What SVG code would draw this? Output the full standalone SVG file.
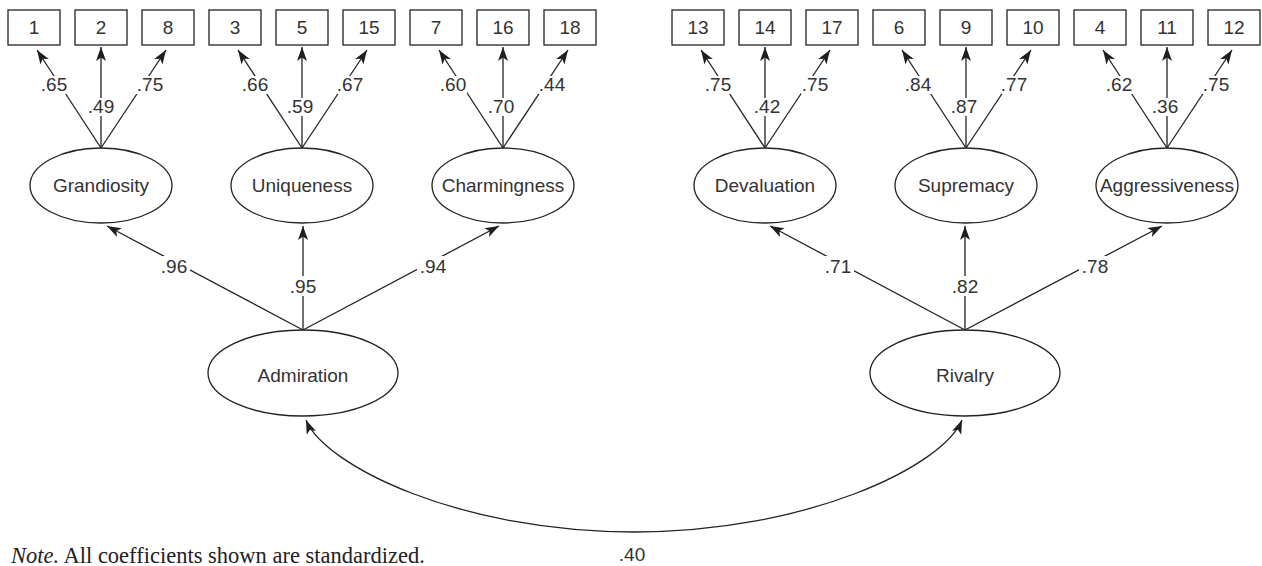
<svg xmlns="http://www.w3.org/2000/svg" width="1262" height="566" viewBox="0 0 1262 566">
<defs>
<marker id="ah" markerUnits="userSpaceOnUse" markerWidth="15" markerHeight="11" refX="14" refY="5" orient="auto-start-reverse" viewBox="0 0 15 11">
<path d="M0,0 L14,5 L0,10 L3.5,5 z" fill="#1e1e1e"/>
</marker>
<style>
.box{fill:#fff;stroke:#222;stroke-width:1.3}
.ell{fill:#fff;stroke:#222;stroke-width:1.3}
.t{font-family:"Liberation Sans",Arial,sans-serif;font-size:19px;fill:#333;text-anchor:middle}
.c{stroke:#222;stroke-width:1.3;fill:none;marker-end:url(#ah)}
.bg{fill:#fff}
</style>
</defs>
<rect width="1262" height="566" fill="#fff"/>

<g id="connectors">
<line class="c" x1="101" y1="148" x2="37" y2="50"/>
<line class="c" x1="101" y1="148" x2="101" y2="47"/>
<line class="c" x1="101" y1="148" x2="166" y2="50"/>
<line class="c" x1="302" y1="148" x2="238" y2="50"/>
<line class="c" x1="302" y1="148" x2="302" y2="47"/>
<line class="c" x1="302" y1="148" x2="367" y2="50"/>
<line class="c" x1="503" y1="148" x2="439" y2="50"/>
<line class="c" x1="503" y1="148" x2="503" y2="47"/>
<line class="c" x1="503" y1="148" x2="568" y2="50"/>
<line class="c" x1="765" y1="148" x2="701" y2="50"/>
<line class="c" x1="765" y1="148" x2="765" y2="47"/>
<line class="c" x1="765" y1="148" x2="830" y2="50"/>
<line class="c" x1="966" y1="148" x2="902" y2="50"/>
<line class="c" x1="966" y1="148" x2="966" y2="47"/>
<line class="c" x1="966" y1="148" x2="1031" y2="50"/>
<line class="c" x1="1167" y1="148" x2="1103" y2="50"/>
<line class="c" x1="1167" y1="148" x2="1167" y2="47"/>
<line class="c" x1="1167" y1="148" x2="1232" y2="50"/>
<line class="c" x1="303" y1="330" x2="107" y2="226"/>
<line class="c" x1="303" y1="330" x2="303" y2="226"/>
<line class="c" x1="303" y1="330" x2="499" y2="226"/>
<line class="c" x1="965" y1="330" x2="770" y2="226"/>
<line class="c" x1="965" y1="330" x2="965" y2="226"/>
<line class="c" x1="965" y1="330" x2="1162" y2="226"/>
<path class="c" style="marker-start:url(#ah)" d="M306,420 C325,466 460,532 634,532 C808,532 943,466 962,420"/>

<g id="loading-labels">
<rect class="bg" x="40" y="76" width="28" height="18"/><text class="t" x="54" y="91">.65</text>
<rect class="bg" x="87" y="98" width="28" height="18"/><text class="t" x="101" y="113">.49</text>
<rect class="bg" x="136" y="76" width="28" height="18"/><text class="t" x="150" y="91">.75</text>
<rect class="bg" x="241" y="76" width="28" height="18"/><text class="t" x="255" y="91">.66</text>
<rect class="bg" x="286" y="98" width="28" height="18"/><text class="t" x="300" y="113">.59</text>
<rect class="bg" x="336" y="76" width="28" height="18"/><text class="t" x="350" y="91">.67</text>
<rect class="bg" x="439" y="76" width="28" height="18"/><text class="t" x="453" y="91">.60</text>
<rect class="bg" x="487" y="98" width="28" height="18"/><text class="t" x="501" y="113">.70</text>
<rect class="bg" x="538" y="76" width="28" height="18"/><text class="t" x="552" y="91">.44</text>
<rect class="bg" x="704" y="76" width="28" height="18"/><text class="t" x="718" y="91">.75</text>
<rect class="bg" x="753" y="98" width="28" height="18"/><text class="t" x="767" y="113">.42</text>
<rect class="bg" x="801" y="76" width="28" height="18"/><text class="t" x="815" y="91">.75</text>
<rect class="bg" x="904" y="76" width="28" height="18"/><text class="t" x="918" y="91">.84</text>
<rect class="bg" x="950" y="98" width="28" height="18"/><text class="t" x="964" y="113">.87</text>
<rect class="bg" x="1000" y="76" width="28" height="18"/><text class="t" x="1014" y="91">.77</text>
<rect class="bg" x="1105" y="76" width="28" height="18"/><text class="t" x="1119" y="91">.62</text>
<rect class="bg" x="1151" y="98" width="28" height="18"/><text class="t" x="1165" y="113">.36</text>
<rect class="bg" x="1202" y="76" width="28" height="18"/><text class="t" x="1216" y="91">.75</text>
<rect class="bg" x="158" y="256" width="32" height="20"/><text class="t" x="174" y="273">.96</text>
<rect class="bg" x="287" y="276" width="32" height="20"/><text class="t" x="303" y="293">.95</text>
<rect class="bg" x="417" y="256" width="32" height="20"/><text class="t" x="433" y="273">.94</text>
<rect class="bg" x="822" y="256" width="32" height="20"/><text class="t" x="838" y="273">.71</text>
<rect class="bg" x="949" y="276" width="32" height="20"/><text class="t" x="965" y="293">.82</text>
<rect class="bg" x="1079" y="256" width="32" height="20"/><text class="t" x="1095" y="273">.78</text>
<text class="t" x="632" y="561">.40</text>
</g>
</g>

<g id="item-1"><rect class="box" x="8" y="10" width="52" height="35"/><text class="t" x="34" y="34">1</text></g>
<g id="item-2"><rect class="box" x="75" y="10" width="52" height="35"/><text class="t" x="101" y="34">2</text></g>
<g id="item-8"><rect class="box" x="142" y="10" width="52" height="35"/><text class="t" x="168" y="34">8</text></g>
<g id="item-3"><rect class="box" x="209" y="10" width="52" height="35"/><text class="t" x="235" y="34">3</text></g>
<g id="item-5"><rect class="box" x="276" y="10" width="52" height="35"/><text class="t" x="302" y="34">5</text></g>
<g id="item-15"><rect class="box" x="343" y="10" width="52" height="35"/><text class="t" x="369" y="34">15</text></g>
<g id="item-7"><rect class="box" x="410" y="10" width="52" height="35"/><text class="t" x="436" y="34">7</text></g>
<g id="item-16"><rect class="box" x="477" y="10" width="52" height="35"/><text class="t" x="503" y="34">16</text></g>
<g id="item-18"><rect class="box" x="544" y="10" width="52" height="35"/><text class="t" x="570" y="34">18</text></g>
<g id="item-13"><rect class="box" x="672" y="10" width="52" height="35"/><text class="t" x="698" y="34">13</text></g>
<g id="item-14"><rect class="box" x="739" y="10" width="52" height="35"/><text class="t" x="765" y="34">14</text></g>
<g id="item-17"><rect class="box" x="806" y="10" width="52" height="35"/><text class="t" x="832" y="34">17</text></g>
<g id="item-6"><rect class="box" x="873" y="10" width="52" height="35"/><text class="t" x="899" y="34">6</text></g>
<g id="item-9"><rect class="box" x="940" y="10" width="52" height="35"/><text class="t" x="966" y="34">9</text></g>
<g id="item-10"><rect class="box" x="1007" y="10" width="52" height="35"/><text class="t" x="1033" y="34">10</text></g>
<g id="item-4"><rect class="box" x="1074" y="10" width="52" height="35"/><text class="t" x="1100" y="34">4</text></g>
<g id="item-11"><rect class="box" x="1141" y="10" width="52" height="35"/><text class="t" x="1167" y="34">11</text></g>
<g id="item-12"><rect class="box" x="1208" y="10" width="52" height="35"/><text class="t" x="1234" y="34">12</text></g>

<g id="grandiosity"><ellipse class="ell" cx="101" cy="185.5" rx="71" ry="37.5"/><text class="t" x="101" y="192">Grandiosity</text></g>
<g id="uniqueness"><ellipse class="ell" cx="302" cy="185.5" rx="71" ry="37.5"/><text class="t" x="302" y="192">Uniqueness</text></g>
<g id="charmingness"><ellipse class="ell" cx="503" cy="185.5" rx="71" ry="37.5"/><text class="t" x="503" y="192">Charmingness</text></g>
<g id="devaluation"><ellipse class="ell" cx="765" cy="185.5" rx="71" ry="37.5"/><text class="t" x="765" y="192">Devaluation</text></g>
<g id="supremacy"><ellipse class="ell" cx="966" cy="185.5" rx="71" ry="37.5"/><text class="t" x="966" y="192">Supremacy</text></g>
<g id="aggressiveness"><ellipse class="ell" cx="1167" cy="185.5" rx="71" ry="37.5"/><text class="t" x="1167" y="192">Aggressiveness</text></g>

<g id="admiration"><ellipse class="ell" cx="303" cy="373" rx="95" ry="43"/><text class="t" x="303" y="382">Admiration</text></g>
<g id="rivalry"><ellipse class="ell" cx="965" cy="373" rx="95" ry="43"/><text class="t" x="965" y="382">Rivalry</text></g>

<text x="11" y="563" font-family="'Liberation Serif','Times New Roman',serif" font-size="22.5" fill="#222"><tspan font-style="italic">Note.</tspan> All coefficients shown are standardized.</text>
</svg>
